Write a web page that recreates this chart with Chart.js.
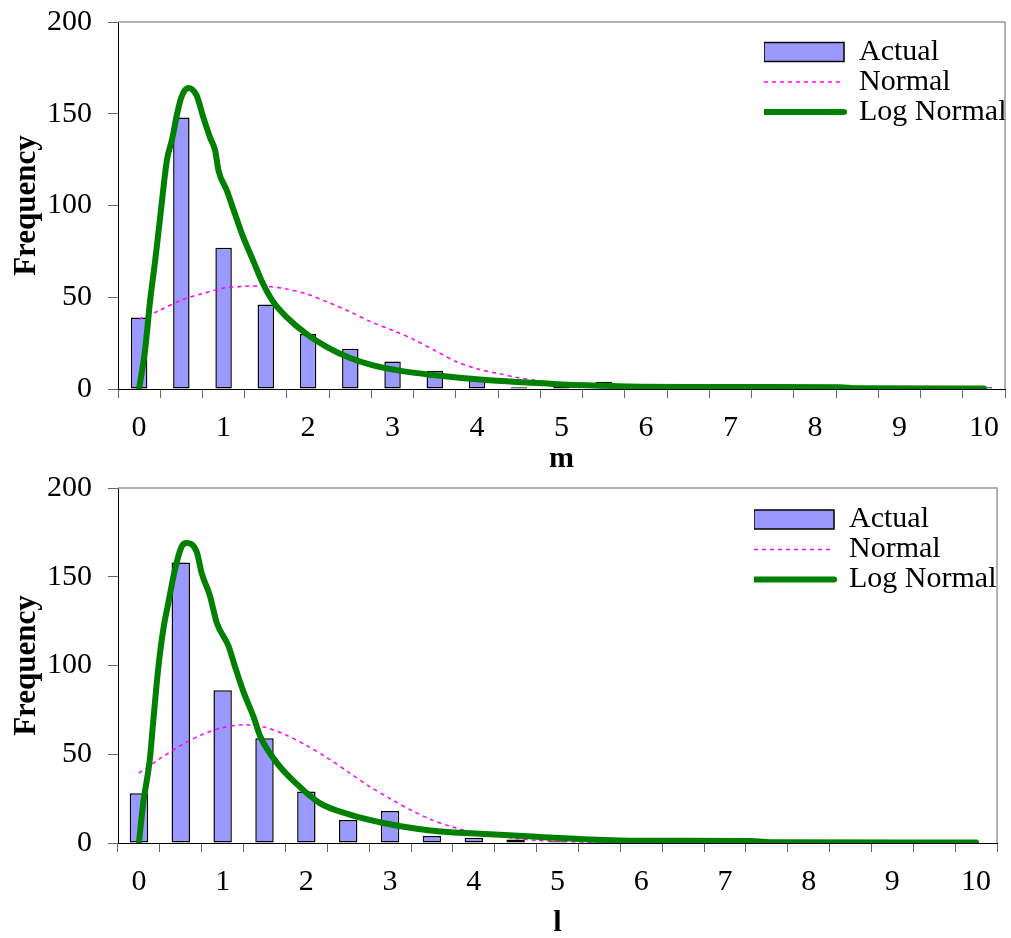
<!DOCTYPE html>
<html>
<head>
<meta charset="utf-8">
<script src="https://cdn.jsdelivr.net/npm/chart.js@4.4.1/dist/chart.umd.min.js"></script>
<style>
  body { margin: 0; background: #fff; }
  #wrap { position: relative; width: 1011px; height: 938px; }
  canvas { position: absolute; left: 0; }
  #top { top: 0; }
  #bottom { top: 470px; }
</style>
</head>
<body>
<div id="wrap">
  <canvas id="top" width="1011" height="470"></canvas>
  <canvas id="bottom" width="1011" height="468"></canvas>
</div>
<script>
// bins of 0.5, labels shown on whole numbers only
var categories = ['0','0.5','1','1.5','2','2.5','3','3.5','4','4.5','5','5.5','6','6.5','7','7.5','8','8.5','9','9.5','10'];
var tickLabels = ['0','','1','','2','','3','','4','','5','','6','','7','','8','','9','','10'];
var yMax = 200, yStep = 50;

// m panel
var actualM = [39,148,77,46,30,22,15,10,6,1,4,4,1,1,0,1,1,0,0,0,1];
var normMx = [0,0.25,0.5,0.75,1,1.25,1.5,1.75,2,2.25,2.5,2.75,3,3.25,3.5,3.75,4,4.25,4.5,4.75,5,5.5,6,6.5,7,8,9,10];
var normMy = [38,43,48.5,52,55,56,56,54.5,51.5,47,42,36.5,32,27,21,15,11,8.5,6,4.5,3,1.5,0.6,0.2,0,0,0,0];
var logMx = [0,0.07,0.13,0.19,0.25,0.33,0.39,0.45,0.5,0.58,0.68,0.76,0.84,0.9,0.94,1.04,1.13,1.23,1.35,1.45,1.58,1.75,1.98,2.22,2.49,2.76,3.08,3.48,4.07,4.66,5,5.5,5.8,6.5,7.5,8.3,8.5,10];
var logMy = [0,21,48,70,94,125,136,150,159,164,160,148,137,130,119,108,96,83,70,59,48,39,30,23,17,13,10,7.6,5,3.4,2.5,1.8,1.3,1.1,1.1,1,0.4,0.3];

// l panel
var actualL = [28,158,86,59,29,13,18,4,3,2,1,3,1,0,1,0,0,0,0,0,0];
var normLx = [0,0.25,0.5,0.75,1,1.25,1.5,1.75,2,2.25,2.5,2.75,3,3.25,3.5,3.75,4,4.25,4.5,4.75,5,5.5,6,7,8,9,10];
var normLy = [39.4,47.5,55,61,65,66.6,65.3,61,55,48,40,32,25,18.5,13,9,6,4.5,2.5,1.5,1,0.3,0,0,0,0,0];
var logLx = [0,0.05,0.13,0.17,0.23,0.29,0.35,0.43,0.51,0.57,0.69,0.75,0.85,0.93,1.07,1.15,1.25,1.37,1.45,1.65,1.89,2.16,2.52,2.92,3.32,3.6,3.91,4.79,5.39,6,7.3,7.6,10];
var logLy = [0,22,47,68,98,120,135,154,167,169,164,152,139,124,111,99,85,71,60,45,33,22.5,16,11.3,8,6.5,5.6,3.4,2,1.3,1.1,0.4,0.3];

Chart.defaults.font.family = "'Liberation Serif', 'Times New Roman', serif";
Chart.defaults.font.size = 30;
Chart.defaults.color = '#000';

// grey top and right edges of the plot box
var frameLines = {
  id: 'frameLines',
  afterDatasetsDraw: function (chart) {
    var a = chart.chartArea, ctx = chart.ctx;
    ctx.save();
    ctx.strokeStyle = '#999';
    ctx.lineWidth = 1.5;
    ctx.beginPath();
    ctx.moveTo(a.left, a.top);
    ctx.lineTo(a.right, a.top);
    ctx.lineTo(a.right, a.bottom);
    ctx.stroke();
    ctx.restore();
  }
};

// put the legend in the upper right corner of the plot
var legendSpot = {
  id: 'legendSpot',
  afterLayout: function (chart, args, opts) {
    var lg = chart.legend;
    lg.left = opts.x;
    lg.top = opts.y;
    lg.right = opts.x + lg.width;
    lg.bottom = opts.y + lg.height;
  }
};

function pts(xs, ys) {
  return xs.map(function (x, i) { return { x: x, y: ys[i] }; });
}

function drawPanel(id, set) {
  new Chart(document.getElementById(id), {
    type: 'bar',
    data: {
      labels: categories,
      datasets: [{
        label: 'Actual',
        data: set.actual,
        backgroundColor: '#9999ff',
        borderColor: '#000',
        borderWidth: 1.5,
        borderSkipped: false,
        grouped: false,
        barPercentage: set.barPct,
        categoryPercentage: 1,
        order: 3
      }, {
        type: 'line',
        label: 'Normal',
        data: pts(set.normX, set.normY),
        xAxisID: 'x2',
        borderColor: '#ff00ff',
        borderWidth: 1.5,
        borderDash: [4, 4],
        pointRadius: 0,
        tension: 0.3,
        order: 2
      }, {
        type: 'line',
        label: 'Log Normal',
        data: pts(set.logX, set.logY),
        xAxisID: 'x2',
        borderColor: '#008000',
        borderWidth: 6,
        borderJoinStyle: 'round',
        borderCapStyle: 'round',
        pointRadius: 0,
        cubicInterpolationMode: 'monotone',
        order: 1
      }]
    },
    options: {
      responsive: false,
      animation: false,
      layout: { padding: { top: set.padTop, right: set.padRight, left: 0, bottom: 0 } },
      plugins: {
        legend: {
          position: 'chartArea',
          align: 'start',
          labels: {
            usePointStyle: true,
            pointStyleWidth: 80,
            boxHeight: 19,
            padding: 0,
            font: { size: 30 },
            generateLabels: function (chart) {
              return chart.data.datasets.map(function (ds, i) {
                return {
                  text: ds.label,
                  datasetIndex: i,
                  fillStyle: ds.type === 'line' ? 'rgba(0,0,0,0)' : ds.backgroundColor,
                  strokeStyle: ds.borderColor,
                  lineWidth: ds.borderWidth,
                  lineDash: ds.borderDash || [],
                  lineCap: ds.borderCapStyle || 'butt',
                  pointStyle: ds.type === 'line' ? 'line' : 'rect',
                  hidden: false
                };
              });
            }
          }
        },
        legendSpot: { x: set.legX, y: set.legY },
        tooltip: { enabled: false }
      },
      scales: {
        x: {
          type: 'category',
          offset: true,
          grid: { offset: true, drawOnChartArea: false, tickLength: 9, color: '#666' },
          border: { color: '#000', width: 1 },
          ticks: {
            autoSkip: false, maxRotation: 0, minRotation: 0, padding: 12,
            callback: function (v, i) { return tickLabels[i]; }
          },
          title: { display: true, text: set.xTitle, font: { size: 30, weight: 'bold' }, padding: { top: 0, bottom: set.titleBottom } },
          afterFit: function (s) { s.height = set.xAxisH; }
        },
        x2: { type: 'linear', display: false, offset: false, grid: { offset: false }, min: -0.25, max: 10.25 },
        y: {
          min: 0, max: yMax,
          ticks: { stepSize: yStep, padding: 16 },
          grid: { drawOnChartArea: false, tickLength: 10, color: '#666' },
          border: { color: '#000', width: 1 },
          title: { display: true, text: 'Frequency', font: { size: 31, weight: 'bold' }, padding: { top: 8, bottom: 0 } },
          afterFit: function (s) { s.width = 118; s.paddingTop = 0; s.paddingBottom = 0; }
        }
      }
    },
    plugins: [frameLines, legendSpot]
  });
}

drawPanel('top', {
  actual: actualM, normX: normMx, normY: normMy, logX: logMx, logY: logMy,
  barPct: 0.39, xTitle: 'm', titleBottom: -7, xAxisH: 81, padTop: 22, padRight: 5, legX: 764, legY: 37
});
drawPanel('bottom', {
  actual: actualL, normX: normLx, normY: normLy, logX: logLx, logY: logLy,
  barPct: 0.44, xTitle: 'l', titleBottom: -3, xAxisH: 95, padTop: 18, padRight: 14, legX: 754, legY: 34.5
});
</script>
</body>
</html>
